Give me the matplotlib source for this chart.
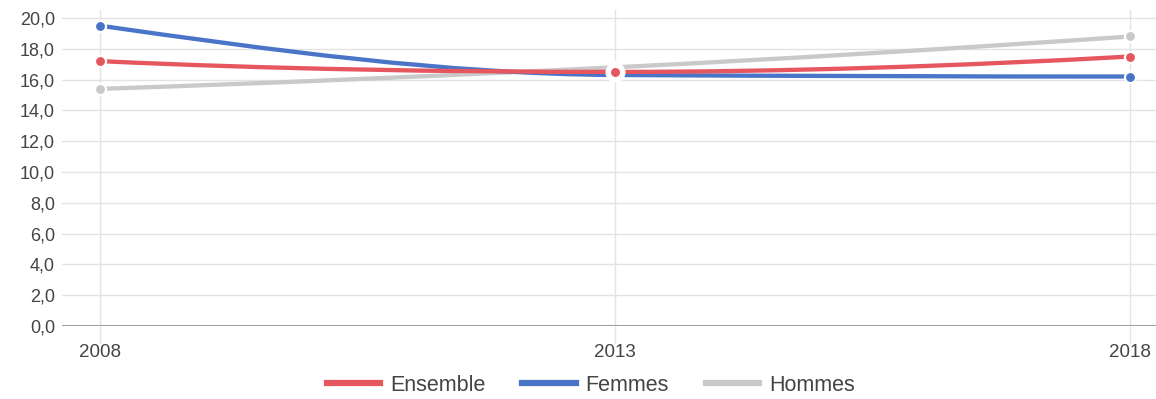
import numpy as np
import matplotlib
matplotlib.use("Agg")
from matplotlib import pyplot as plt
from matplotlib.path import Path
from matplotlib.patches import PathPatch
from matplotlib.lines import Line2D
from matplotlib import ticker as mticker

# Data
years = [2008, 2013, 2018]
ensemble = [17.2, 16.5, 17.5]
femmes = [19.5, 16.3, 16.2]
hommes = [15.4, 16.8, 18.8]

series_names = ["Ensemble", "Femmes", "Hommes"]
colors = {"Ensemble": "#e6565f", "Femmes": "#4a74c8", "Hommes": "#c9c9c9"}

plt.rcParams["font.family"] = ["Liberation Sans", "DejaVu Sans"]


def monotone_path(xs, ys):
    # monotone cubic (Fritsch-Carlson) drawn as Bezier segments
    x = np.asarray(xs, float)
    y = np.asarray(ys, float)
    h = np.diff(x)
    d = np.diff(y) / h
    n = len(x)
    m = np.zeros(n)
    for i in range(1, n - 1):
        if d[i - 1] * d[i] > 0:
            w1 = 2 * h[i] + h[i - 1]
            w2 = h[i] + 2 * h[i - 1]
            m[i] = (w1 + w2) / (w1 / d[i - 1] + w2 / d[i])
    m[0] = ((2 * h[0] + h[1]) * d[0] - h[0] * d[1]) / (h[0] + h[1])
    if np.sign(m[0]) != np.sign(d[0]):
        m[0] = 0
    m[-1] = ((2 * h[-1] + h[-2]) * d[-1] - h[-1] * d[-2]) / (h[-1] + h[-2])
    if np.sign(m[-1]) != np.sign(d[-1]):
        m[-1] = 0
    verts = [(x[0], y[0])]
    codes = [Path.MOVETO]
    for i in range(n - 1):
        verts += [(x[i] + h[i] / 3, y[i] + m[i] * h[i] / 3),
                  (x[i + 1] - h[i] / 3, y[i + 1] - m[i + 1] * h[i] / 3),
                  (x[i + 1], y[i + 1])]
        codes += [Path.CURVE4] * 3
    return Path(verts, codes)


fig = plt.figure(figsize=(11.56, 3.99), dpi=100)
ax = fig.add_axes([62 / 1156, 73 / 399, 1 - 62 / 1156, 316 / 399])

data = {"Ensemble": ensemble, "Femmes": femmes, "Hommes": hommes}
draw_order = ["Hommes", "Femmes", "Ensemble"]

for name in draw_order:
    patch = PathPatch(monotone_path(years, data[name]), facecolor="none",
                      edgecolor=colors[name], lw=3.1, capstyle="butt", zorder=3)
    ax.add_patch(patch)

for name in draw_order:
    ax.plot(years, data[name], "o", ms=8, color=colors[name],
            mec="white", mew=1.6, zorder=4)

# highlighted point at 2013 (white halo hides the others)
ax.plot(years[1], ensemble[1], "o", ms=10.5, color=colors["Ensemble"],
        mec="white", mew=4, zorder=5)

ax.set_xlim(2007.63, 2018.25)
ax.set_ylim(0, 20.52)

ax.set_yticks(np.arange(0, 21, 2))
ax.yaxis.set_major_formatter(mticker.FuncFormatter(lambda v, p: "{:.1f}".format(v).replace(".", ",")))
ax.set_xticks(years)

ax.grid(True, color="#e3e3e3", lw=1.0, zorder=0)
ax.axhline(0, color="#a0a0a0", lw=2.2, zorder=2)
for s in ax.spines.values():
    s.set_visible(False)

ax.tick_params(axis="y", length=0, pad=5, labelsize=13, labelcolor="#444444")
ax.tick_params(axis="x", length=12, width=1, color="#e3e3e3", pad=1,
               labelsize=13.5, labelcolor="#444444")

handles = [Line2D([], [], color=colors[n], lw=4.5) for n in series_names]
fig.legend(handles, series_names, loc="center", bbox_to_anchor=(0.511, 0.035),
           ncol=3, frameon=False, fontsize=15.5, handlelength=2.5,
           columnspacing=1.7, handletextpad=0.45, labelcolor="#444444")

fig.savefig("out.png", dpi=100, facecolor="white")
